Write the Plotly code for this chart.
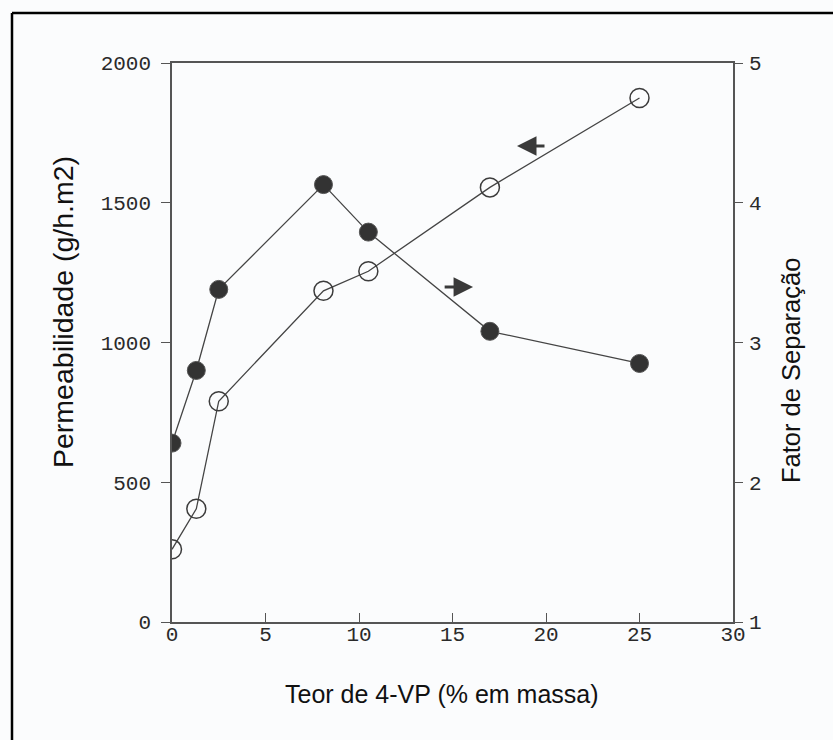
import plotly.graph_objects as go

# 4-VP content (% by mass)
teor_4vp = [0, 1.3, 2.5, 8.1, 10.5, 17, 25]
# Permeability (g/h.m2) - open circles, left axis
permeabilidade = [260, 405, 790, 1185, 1255, 1555, 1875]
# Separation factor - filled circles, right axis
fator_separacao = [2.28, 2.80, 3.38, 4.13, 3.79, 3.08, 2.85]

x_ticks = [0, 5, 10, 15, 20, 25, 30]
y_ticks = [0, 500, 1000, 1500, 2000]
y2_ticks = [1, 2, 3, 4, 5]

# Arrows telling which axis each curve belongs to: (head_x, tail_x, y on left axis)
arrow_perm = (18.45, 20.0, 1703)
arrow_sep = (16.1, 14.5, 1199)

W, H = 833, 740
ML, MR, MT, MB = 172, 100, 63, 118
PW, PH = W - ML - MR, H - MT - MB


def px(xp):
    return (xp - ML) / PW


def py(yp):
    return (H - MB - yp) / PH


line_col = "#444444"
tick_font = dict(family="Liberation Mono", size=21, color="#2a2a2a")

fig = go.Figure()

fig.add_trace(go.Scatter(
    x=teor_4vp, y=permeabilidade, mode="lines+markers",
    line=dict(color=line_col, width=1.3),
    marker=dict(symbol="circle-open", size=19, color="#3c3c3c", line=dict(width=1.5)),
    yaxis="y", showlegend=False,
))

fig.add_trace(go.Scatter(
    x=teor_4vp, y=fator_separacao, mode="lines+markers",
    line=dict(color=line_col, width=1.3),
    marker=dict(symbol="circle", size=18, color="#333333",
                line=dict(width=1, color="#555555")),
    yaxis="y2", showlegend=False,
))

annotations = []
for head_x, tail_x, yv in (arrow_perm, arrow_sep):
    annotations.append(dict(
        x=head_x, y=yv, ax=tail_x, ay=yv, xref="x", yref="y", axref="x", ayref="y",
        text="", showarrow=True, arrowhead=2, arrowsize=1.3, arrowwidth=3,
        arrowcolor="#3a3a3a",
    ))

annotations += [
    dict(text="Permeabilidade (g/h.m2)", x=px(63), y=py(312), xref="paper", yref="paper",
         showarrow=False, textangle=-90, xanchor="center", yanchor="middle",
         font=dict(family="Liberation Sans", size=28.5, color="#111111")),
    dict(text="Fator de Separação", x=px(791), y=py(370), xref="paper", yref="paper",
         showarrow=False, textangle=-90, xanchor="center", yanchor="middle",
         font=dict(family="Liberation Sans", size=25.5, color="#111111")),
    dict(text="Teor de 4-VP (% em massa)", x=px(442), y=py(694), xref="paper", yref="paper",
         showarrow=False, xanchor="center", yanchor="middle",
         font=dict(family="Liberation Sans", size=25, color="#111111")),
]

shapes = [
    # page frame on the top and left edges
    dict(type="line", xref="paper", yref="paper", x0=px(12), x1=px(W), y0=py(13), y1=py(13),
         line=dict(color="black", width=2.5)),
    dict(type="line", xref="paper", yref="paper", x0=px(12), x1=px(12), y0=py(13), y1=py(H),
         line=dict(color="black", width=2.5)),
]

fig.update_layout(
    width=W, height=H,
    margin=dict(l=ML, r=MR, t=MT, b=MB),
    paper_bgcolor="#fbfcfd", plot_bgcolor="#fbfcfd",
    xaxis=dict(range=[0, 30], tickvals=x_ticks, ticks="inside", ticklen=9,
               tickcolor="#555555", showline=True, linecolor="#555555", linewidth=1.5,
               mirror=True, showgrid=False, zeroline=False, tickfont=tick_font,
               ticklabelstandoff=-8),
    yaxis=dict(range=[0, 2000], tickvals=y_ticks, ticks="outside", ticklen=9,
               tickcolor="#555555", showline=True, linecolor="#555555", linewidth=1.5,
               showgrid=False, zeroline=False, tickfont=tick_font, ticklabelstandoff=6),
    yaxis2=dict(range=[1, 5], tickvals=y2_ticks, overlaying="y", side="right",
                ticks="outside", ticklen=8, tickcolor="#555555", showline=True,
                linecolor="#555555", linewidth=1.5, showgrid=False, zeroline=False,
                tickfont=tick_font, ticklabelstandoff=2),
    annotations=annotations,
    shapes=shapes,
)

fig.write_html("out.html")
